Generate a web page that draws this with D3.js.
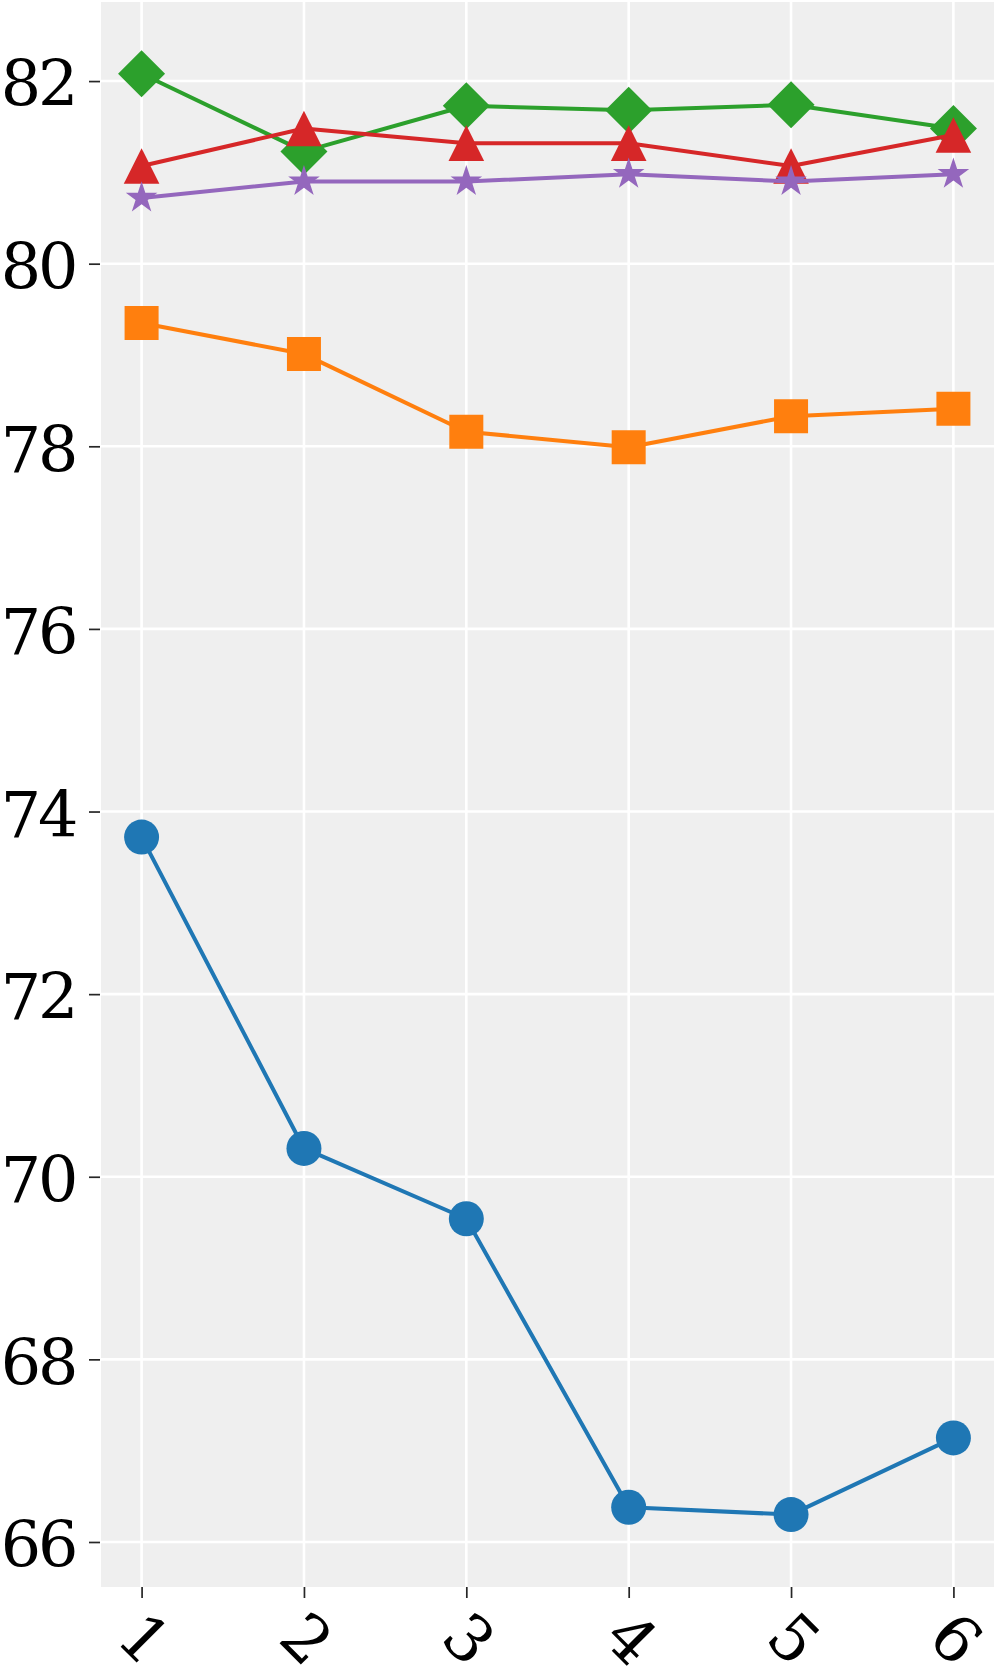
<!DOCTYPE html>
<html>
<head>
<meta charset="utf-8">
<script src="https://cdn.jsdelivr.net/npm/d3@7"></script>
<style>
  html, body { margin: 0; padding: 0; background: #ffffff; }
  svg { display: block; }
</style>
</head>
<body>
<svg id="chart" width="997" height="1666"></svg>
<script>
// ---- data ----
const categories = [1, 2, 3, 4, 5, 6];
const xTickLabels = ["1", "2", "3", "4", "5", "6"];
const yTicks = [66, 68, 70, 72, 74, 76, 78, 80, 82];
const seriesBlue   = [73.72, 70.31, 69.54, 66.38, 66.30, 67.14];
const seriesOrange = [79.35, 79.01, 78.16, 77.99, 78.33, 78.41];
const seriesGreen  = [82.08, 81.23, 81.73, 81.68, 81.74, 81.48];
const seriesRed    = [81.07, 81.48, 81.32, 81.32, 81.07, 81.41];
const seriesPurple = [80.72, 80.90, 80.90, 80.98, 80.90, 80.98];

const series = [
  { values: seriesBlue,   color: "#1f77b4", marker: "circle" },
  { values: seriesOrange, color: "#ff7f0e", marker: "square" },
  { values: seriesGreen,  color: "#2ca02c", marker: "diamond" },
  { values: seriesRed,    color: "#d62728", marker: "triangle" },
  { values: seriesPurple, color: "#9467bd", marker: "star" }
];

// ---- layout ----
const plot = { left: 101, right: 994, top: 2, bottom: 1587 };
const svg = d3.select("#chart");

const x = d3.scaleLinear().domain([0.75, 6.25]).range([plot.left, plot.right]);
const y = d3.scaleLinear().domain([65.507, 82.866]).range([plot.bottom, plot.top]);

// background
svg.append("rect")
  .attr("x", plot.left).attr("y", plot.top)
  .attr("width", plot.right - plot.left).attr("height", plot.bottom - plot.top)
  .attr("fill", "#efefef");

// grid
const grid = svg.append("g");
grid.selectAll("line.h").data(yTicks).enter().append("line")
  .attr("x1", plot.left).attr("x2", plot.right)
  .attr("y1", d => y(d)).attr("y2", d => y(d))
  .attr("stroke", "#ffffff").attr("stroke-width", 2.6);
grid.selectAll("line.v").data(categories).enter().append("line")
  .attr("y1", plot.top).attr("y2", plot.bottom)
  .attr("x1", d => x(d)).attr("x2", d => x(d))
  .attr("stroke", "#ffffff").attr("stroke-width", 2.6);

// y axis
const yAxis = d3.axisLeft(y).tickValues(yTicks).tickSize(11).tickPadding(13).tickFormat(d3.format("d"));
const gy = svg.append("g").attr("transform", `translate(${plot.left - 1},0)`).call(yAxis);
gy.select(".domain").remove();
gy.selectAll(".tick line").attr("stroke", "#262626").attr("stroke-width", 1.7);
gy.selectAll(".tick text")
  .attr("font-family", "DejaVu Serif")
  .attr("font-size", 63.5)
  .attr("letter-spacing", -3)
  .attr("fill", "#000")
  .attr("x", -24.5)
  .attr("dy", "0.39em");

// x axis
const xAxis = d3.axisBottom(x).tickValues(categories).tickSize(11).tickFormat((d, i) => xTickLabels[i]);
const gx = svg.append("g").attr("transform", `translate(0,${plot.bottom})`).call(xAxis);
gx.select(".domain").remove();
gx.selectAll(".tick line").attr("stroke", "#262626").attr("stroke-width", 1.7);
gx.selectAll(".tick text")
  .attr("font-family", "DejaVu Serif")
  .attr("font-size", 64)
  .attr("fill", "#000")
  .attr("text-anchor", "middle")
  .attr("dominant-baseline", "central")
  .attr("y", 0).attr("dy", null)
  .attr("transform", "translate(2,52) rotate(45)");

// symbols
function markerPath(kind) {
  switch (kind) {
    case "circle":   return d3.symbol(d3.symbolCircle, Math.PI * 17.5 * 17.5)();
    case "square":   return d3.symbol(d3.symbolSquare, 34 * 34)();
    case "diamond": { const h = 23.5; return `M0,${-h}L${h},0L0,${h}L${-h},0Z`; }
    case "triangle": { const s = 17.8; return `M0,${-s}L${s},${s}L${-s},${s}Z`; }
    case "star": {
      const R = 16.6, r = R * 0.381966; let p = "";
      for (let i = 0; i < 10; i++) {
        const rad = i % 2 === 0 ? R : r;
        const a = Math.PI * i / 5;
        p += (i === 0 ? "M" : "L") + (rad * Math.sin(a)).toFixed(2) + "," + (-rad * Math.cos(a)).toFixed(2);
      }
      return p + "Z";
    }
  }
}

const line = d3.line().x((d, i) => x(categories[i])).y(d => y(d));
series.forEach(s => {
  const g = svg.append("g");
  g.append("path").attr("d", line(s.values))
    .attr("fill", "none").attr("stroke", s.color).attr("stroke-width", 4)
    .attr("stroke-linejoin", "round");
  g.selectAll("path.m").data(s.values).enter().append("path")
    .attr("class", "m")
    .attr("d", markerPath(s.marker))
    .attr("transform", (d, i) => `translate(${x(categories[i])},${y(d)})`)
    .attr("fill", s.color);
});
</script>
</body>
</html>
